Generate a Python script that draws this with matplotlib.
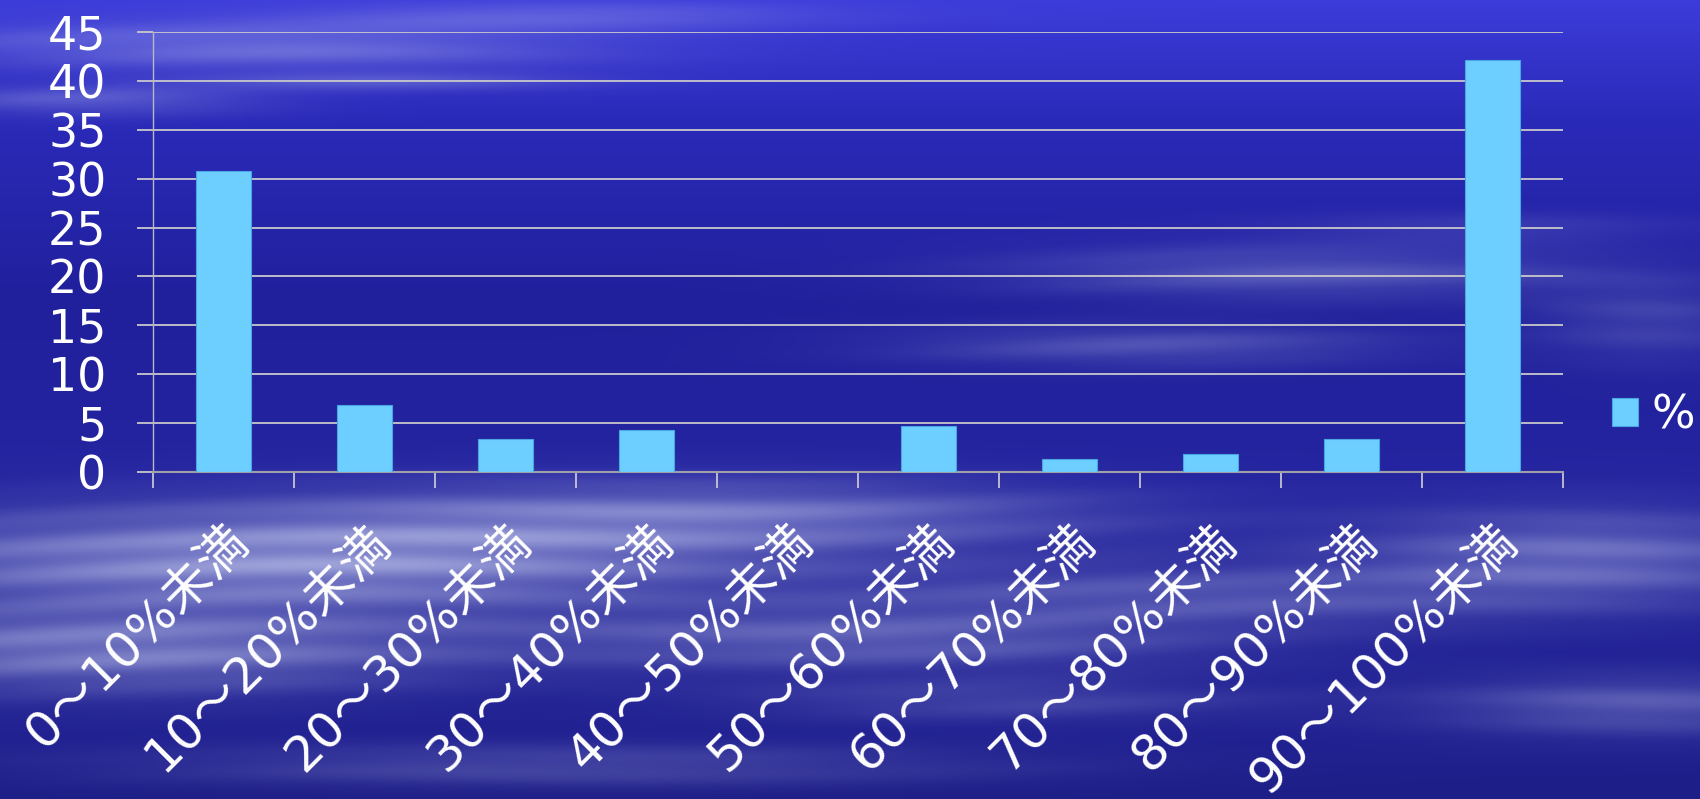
import numpy as np
import matplotlib
matplotlib.use("Agg")
import matplotlib.pyplot as plt
from matplotlib.transforms import ScaledTranslation

categories = ["0～10%未満", "10～20%未満", "20～30%未満", "30～40%未満", "40～50%未満",
              "50～60%未満", "60～70%未満", "70～80%未満", "80～90%未満", "90～100%未満"]
percent = [30.8, 6.8, 3.3, 4.3, 0.0, 4.7, 1.3, 1.8, 3.3, 42.2]
y_ticks = [0, 5, 10, 15, 20, 25, 30, 35, 40, 45]
series_name = "%"

W, H = 1700, 799
FONT = ["DejaVu Sans", "Noto Sans CJK JP"]


def sky_background(w, h):
    """Blue slide backdrop with soft horizontal cloud streaks."""
    yy, xx = np.mgrid[0:h, 0:w].astype(float)
    stops_y = [0, 120, 300, 460, 740, 799]
    stops_c = [(60, 60, 218), (42, 42, 185), (32, 32, 156), (36, 36, 160),
               (32, 32, 145), (30, 30, 135)]
    base = np.zeros((h, w, 3))
    for k in range(3):
        base[..., k] = np.interp(yy, stops_y, [c[k] for c in stops_c])
    # (cx, cy, sx, sy, strength)
    clouds = [
        (260, 45, 320, 22, 0.4), (90, 100, 160, 14, 0.3), (560, 15, 260, 12, 0.3),
        (380, 80, 200, 10, 0.25),
        (1300, 272, 280, 26, 0.32), (1150, 345, 240, 20, 0.28), (1480, 228, 200, 14, 0.15),
        (1650, 320, 110, 40, 0.2),
        (300, 560, 450, 50, 0.7), (120, 650, 320, 40, 0.55), (720, 515, 380, 34, 0.45),
        (860, 640, 340, 30, 0.38), (1200, 595, 340, 30, 0.32), (1580, 555, 220, 45, 0.45),
        (1640, 705, 200, 28, 0.35), (560, 765, 420, 20, 0.25), (1000, 700, 260, 20, 0.22),
    ]
    cover = np.zeros((h, w))
    for cx, cy, sx, sy, a in clouds:
        cover += a * np.exp(-((xx - cx) / sx) ** 2 - ((yy - cy) / sy) ** 2)
    streak = 0.86 + 0.14 * np.sin(2 * np.pi * yy / 30 + 0.004 * xx + 1.5 * np.sin(xx / 170))
    cover = np.clip(cover * streak, 0, 0.8)[..., None]
    white = np.array([205, 212, 242], dtype=float)
    img = base * (1 - cover) + white * cover
    return img.astype(np.uint8)


fig = plt.figure(figsize=(W / 100, H / 100), dpi=100)
bg = fig.add_axes([0, 0, 1, 1], zorder=-1)
bg.imshow(sky_background(W, H), aspect="auto", interpolation="bilinear")
bg.axis("off")

ax = fig.add_axes([153 / W, 1 - 471.7 / H, 1410 / W, 439.4 / H])
ax.patch.set_alpha(0)

x = np.arange(len(categories))
ax.bar(x, percent, width=0.39, color="#6dcfff", edgecolor="#4aa6e0",
       linewidth=0.8, zorder=3, label=series_name)

ax.set_xlim(-0.5, len(categories) - 0.5)
ax.set_ylim(0, 45)
ax.set_yticks(y_ticks)
ax.grid(axis="y", color="#c8c8cc", linewidth=1.3, zorder=1)
ax.set_axisbelow(True)

for side in ("top", "right"):
    ax.spines[side].set_visible(False)
ax.spines["left"].set_color("#b8b8c0")
ax.spines["left"].set_linewidth(1.0)
ax.spines["bottom"].set_color("#a0a0a8")
ax.spines["bottom"].set_linewidth(1.5)

ax.tick_params(axis="y", direction="out", length=11.5, width=1.3, color="#c8c8cc",
               pad=22, labelsize=33, labelcolor="white")
for t in ax.get_yticklabels():
    t.set_family(FONT)

ax.set_xticks(x)
ax.set_xticklabels(categories, rotation=45, ha="right", va="center",
                   rotation_mode="anchor", fontsize=36, color="white", family=FONT)
ax.tick_params(axis="x", which="major", length=0, pad=0)
ax.set_xticks(np.arange(len(categories) + 1) - 0.5, minor=True)
ax.tick_params(axis="x", which="minor", direction="out", length=11.5, width=1.2,
               color="#d0d0d8")
shift = ScaledTranslation(18 / 100, -62 / 100, fig.dpi_scale_trans)
for t in ax.get_xticklabels():
    t.set_transform(t.get_transform() + shift)

leg = fig.legend(loc="center left", bbox_to_anchor=(1612 / W, 1 - 416 / H),
                 frameon=False, fontsize=33, handlelength=0.57, handleheight=0.57,
                 handletextpad=0.3, borderpad=0, borderaxespad=0)
for t in leg.get_texts():
    t.set_color("white")
    t.set_family(FONT)

fig.savefig("out.png", dpi=100)
